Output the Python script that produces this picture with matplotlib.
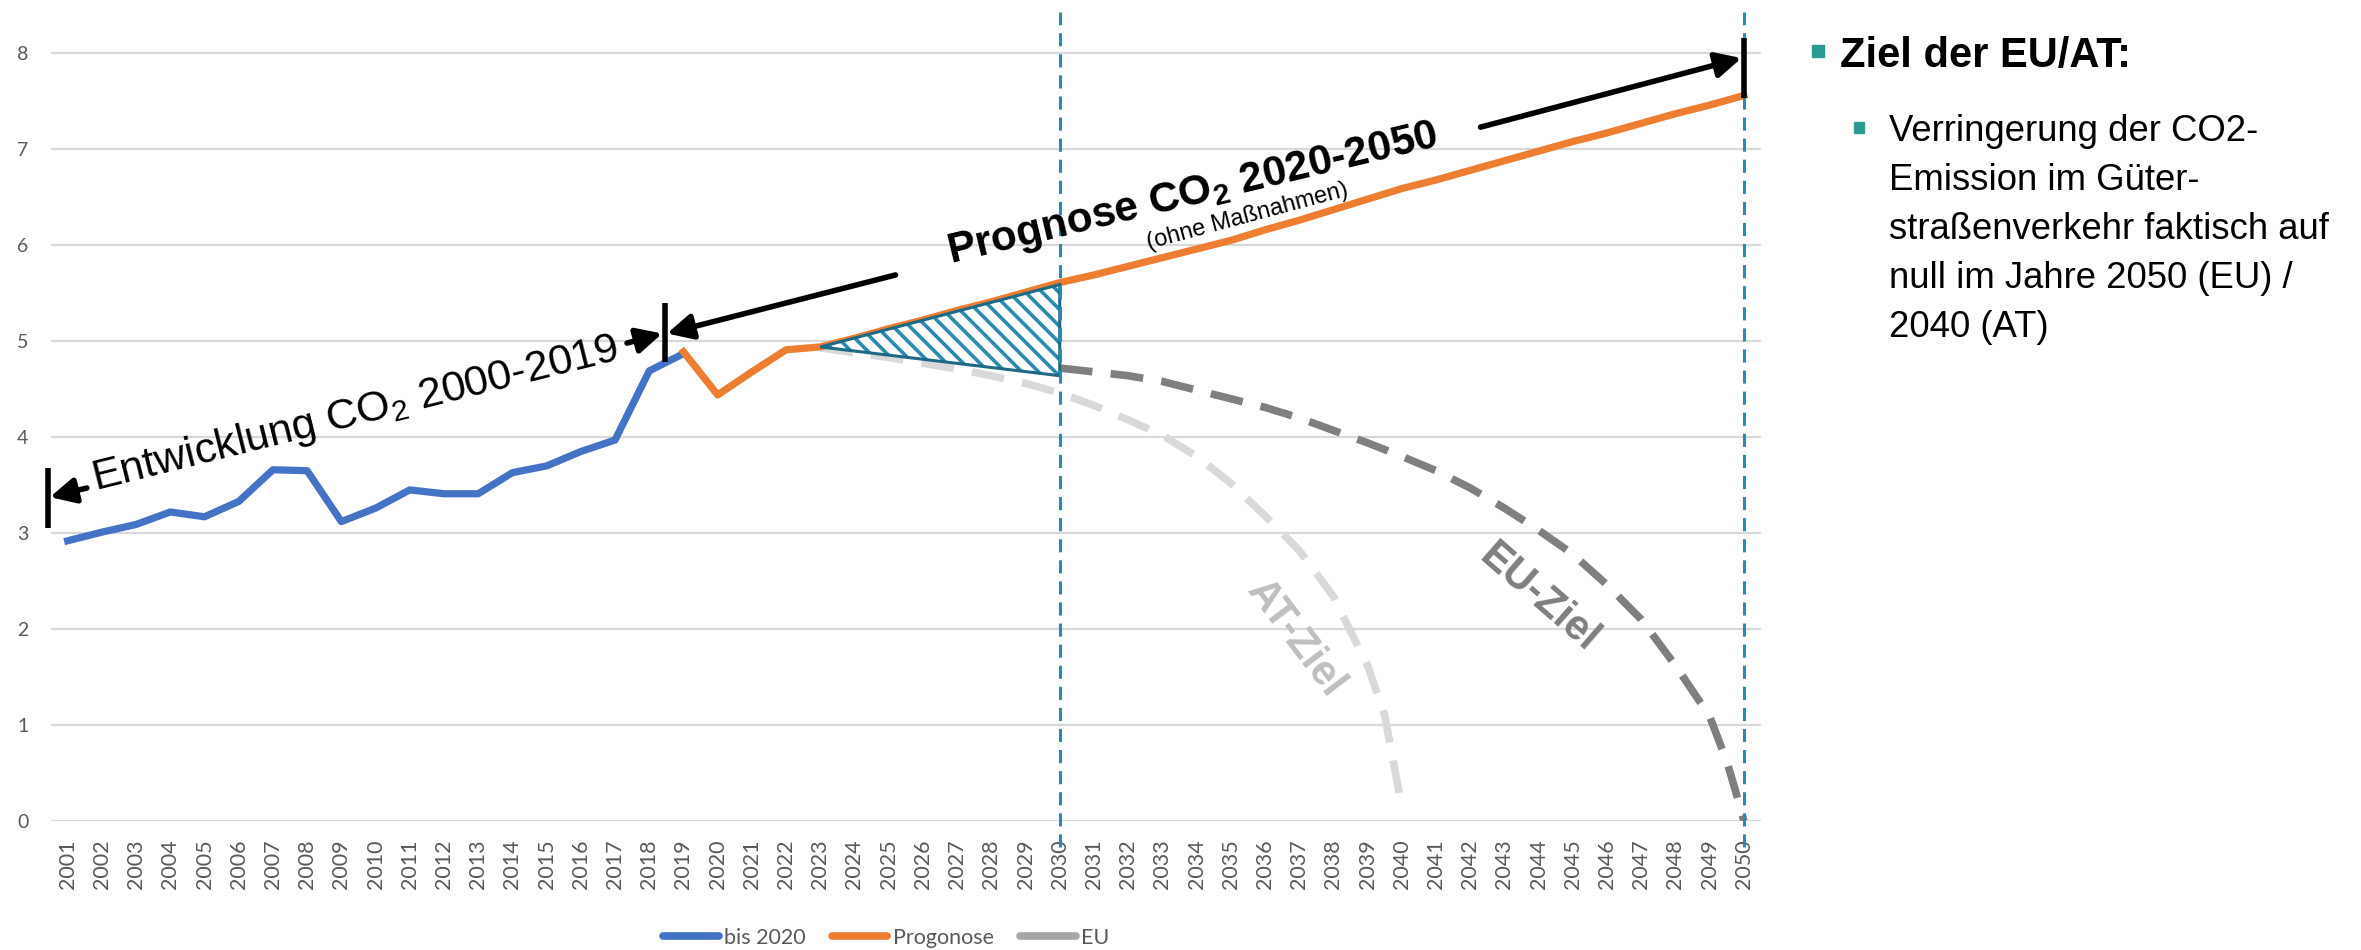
import matplotlib
matplotlib.use('Agg')
import matplotlib.pyplot as plt
from matplotlib.lines import Line2D
from matplotlib.patches import Polygon, Rectangle

plt.rcParams['font.family'] = ['Liberation Sans', 'DejaVu Sans']
plt.rcParams['mathtext.fontset'] = 'custom'
plt.rcParams['mathtext.rm'] = 'Liberation Sans'
plt.rcParams['mathtext.bf'] = 'Liberation Sans:bold'
plt.rcParams['hatch.linewidth'] = 2.6

# Data
years = list(range(2001, 2051))

hist_years = list(range(2001, 2020))
hist_vals = [2.92, 3.01, 3.09, 3.22, 3.17, 3.33, 3.66, 3.65, 3.12, 3.26,
             3.45, 3.41, 3.41, 3.63, 3.70, 3.85, 3.97, 4.69, 4.87]

prog_years = list(range(2019, 2051))
prog_vals = [4.89, 4.44, 4.68, 4.91, 4.94, 5.03, 5.13, 5.22, 5.32, 5.41,
             5.51, 5.61, 5.69, 5.78, 5.87, 5.96, 6.05, 6.16, 6.26, 6.37,
             6.48, 6.59, 6.68, 6.78, 6.88, 6.98, 7.08, 7.17, 7.27, 7.37,
             7.46, 7.56]

eu_years = [2030, 2031, 2032, 2033, 2034, 2035, 2036, 2037, 2038, 2039, 2040,
            2041, 2042, 2043, 2044, 2045, 2046, 2047, 2048, 2049, 2049.5,
            2049.75, 2050]
eu_vals = [4.72, 4.68, 4.64, 4.58, 4.49, 4.40, 4.31, 4.20, 4.07, 3.94, 3.80,
           3.65, 3.47, 3.26, 3.03, 2.78, 2.46, 2.10, 1.62, 1.09, 0.62,
           0.32, 0.0]

at_years = [2023, 2024, 2025, 2026, 2027, 2028, 2029, 2030, 2031, 2032, 2033,
            2034, 2035, 2036, 2037, 2038, 2039, 2039.5, 2040]
at_vals = [4.93, 4.88, 4.83, 4.77, 4.71, 4.64, 4.56, 4.46, 4.33, 4.18, 4.02,
           3.80, 3.52, 3.18, 2.82, 2.34, 1.62, 1.10, 0.15]

# gap between forecast and target up to 2030
gap_years = [2023, 2030, 2030]
gap_vals = [4.94, 5.59, 4.64]

legend_labels = ['bis 2020', 'Progonose', 'EU']

BLUE = '#4472C4'
ORANGE = '#ED7D31'
DARKGREY = '#7F7F7F'
LIGHTGREY = '#D9D9D9'
TEAL = '#2A8AB0'
TEAL_DARK = '#1E6A86'
TICKGREY = '#595959'

W, H = 2361, 950
fig = plt.figure(figsize=(W / 100, H / 100), dpi=100)
ax = fig.add_axes([50.6 / W, 1 - 821 / H, (1761 - 50.6) / W, (821 - 12) / H])

ax.set_xlim(2000.5, 2050.5)
ax.set_ylim(0, 8.43)
ax.set_yticks(range(0, 9))
ax.set_xticks(years)
ax.set_xticklabels([str(y) for y in years], rotation=90)
ax.grid(axis='y', color=LIGHTGREY, lw=1.6, zorder=0)
ax.set_axisbelow(True)
for s in ax.spines.values():
    s.set_visible(False)
ax.tick_params(length=0)
ax.tick_params(axis='y', pad=16, labelsize=14, labelcolor=TICKGREY)
ax.tick_params(axis='x', pad=13, labelsize=15.5, labelcolor=TICKGREY)
for lab in ax.get_xticklabels() + ax.get_yticklabels():
    lab.set_family('Lato')

# Series
ax.plot(hist_years, hist_vals, color=BLUE, lw=5.2, solid_joinstyle='round', zorder=3)
ax.plot(prog_years, prog_vals, color=ORANGE, lw=5.2, solid_joinstyle='round', zorder=3)
ax.plot(at_years, at_vals, color=LIGHTGREY, lw=5.5, dashes=(4.3, 2.4), zorder=2)
ax.plot(eu_years, eu_vals, color=DARKGREY, lw=5.5, dashes=(4.3, 2.4), zorder=2)

# Hatched gap triangle
pts = list(zip(gap_years, gap_vals))
ax.add_patch(Polygon(pts, closed=True, facecolor='white', edgecolor=TEAL,
                     hatch='\\\\', lw=0, zorder=4))
ax.add_patch(Polygon(pts, closed=True, fill=False, edgecolor=TEAL_DARK,
                     lw=2.2, zorder=5))

# Vertical dashed markers at 2030 and 2050
for yr in (2030, 2050):
    ax.plot([yr, yr], [-0.27, 8.43], color=TEAL, lw=2.2, dashes=(4.3, 2.6),
            clip_on=False, zorder=6)

# Annotation bars and arrows
def bar(x, y0, y1):
    ax.plot([x, x], [y0, y1], color='black', lw=4, solid_capstyle='butt',
            zorder=7, clip_on=False)


def arrow(tail, tip):
    ax.annotate('', xy=tip, xytext=tail, annotation_clip=False,
                arrowprops=dict(arrowstyle='-|>', color='black', lw=4,
                                mutation_scale=38, shrinkA=0, shrinkB=0),
                zorder=7)


bar(2000.42, 3.05, 3.68)
bar(2018.45, 4.78, 5.40)
bar(2050.0, 7.53, 8.16)
arrow((2001.56, 3.47), (2000.48, 3.375))
arrow((2017.35, 4.98), (2018.38, 5.08))
arrow((2025.2, 5.69), (2018.52, 5.08))
arrow((2042.3, 7.23), (2049.93, 7.95))

ax.text(2009.4, 4.24, r'Entwicklung CO$_2$ 2000-2019', fontsize=31, rotation=14,
        ha='center', va='center', rotation_mode='anchor', zorder=8)
ax.text(2033.9, 6.52, r'Prognose CO$_\mathbf{2}$ 2020-2050', fontsize=30.5,
        fontweight='bold', rotation=13.5, ha='center', va='center',
        rotation_mode='anchor', zorder=8)
ax.text(2035.5, 6.30, '(ohne Maßnahmen)', fontsize=17, rotation=15,
        ha='center', va='center', rotation_mode='anchor', zorder=8)
ax.text(2044.0, 2.33, 'EU-Ziel', fontsize=30, fontweight='bold', color=DARKGREY,
        rotation=-41, ha='center', va='center', rotation_mode='anchor', zorder=8)
ax.text(2036.9, 1.90, 'AT-Ziel', fontsize=30, fontweight='bold', color='#BFBFBF',
        rotation=-53, ha='center', va='center', rotation_mode='anchor', zorder=8)

# Legend
handles = [Line2D([], [], color=BLUE, lw=5.5, solid_capstyle='round'),
           Line2D([], [], color=ORANGE, lw=5.5, solid_capstyle='round'),
           Line2D([], [], color='#A5A5A5', lw=5.5, solid_capstyle='round')]
fig.legend(handles, legend_labels, loc='center', ncol=3, frameon=False,
           bbox_to_anchor=(886 / W, 1 - 938 / H), handlelength=2.6,
           handletextpad=0.25, columnspacing=1.2,
           prop={'family': 'Lato', 'size': 15.5}, labelcolor=TICKGREY)

# Right-hand text panel
BULLET = '#2B9A94'
fig.add_artist(Rectangle((1812 / W, 1 - 57 / H), 12 / W, 12 / H,
                         transform=fig.transFigure, color=BULLET))
fig.text(1840 / W, 1 - 67 / H, 'Ziel der EU/AT:', fontsize=30, fontweight='bold',
         va='baseline', ha='left')
fig.add_artist(Rectangle((1854 / W, 1 - 133 / H), 10 / W, 11 / H,
                         transform=fig.transFigure, color=BULLET))
body = ['Verringerung der CO2-', 'Emission im Güter-',
        'straßenverkehr faktisch auf', 'null im Jahre 2050 (EU) /', '2040 (AT)']
baselines = [141, 190, 239, 288, 337]
for line, b in zip(body, baselines):
    fig.text(1889 / W, 1 - b / H, line, fontsize=26.3, va='baseline', ha='left')

fig.savefig('out.png', dpi=100)
